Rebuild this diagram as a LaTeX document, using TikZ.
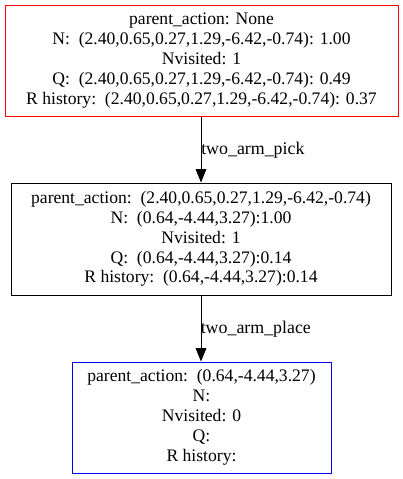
\documentclass[tikz,border=0pt]{standalone}
\usepackage{fontspec}
\setmainfont{Liberation Serif}
\usetikzlibrary{arrows.meta}
\begin{document}
\begin{tikzpicture}[x=0.75pt,y=-0.75pt,
  box/.style={draw,line width=0.75pt,align=center,inner sep=0pt,
    font=\fontsize{13.2}{14.9}\selectfont},
  lbl/.style={anchor=west,inner sep=0pt,font=\fontsize{13.4}{14}\selectfont},
  conn/.style={line width=0.75pt,-{Triangle[length=10pt,width=8pt]}}]
\useasboundingbox (0,0) rectangle (403,479);
\node[box,draw=red,minimum width=393*0.75pt,minimum height=111*0.75pt] (n1) at (201.5,60.5)
  {parent\_action: None\\
   N:\ \ (2.40,0.65,0.27,1.29,-6.42,-0.74): 1.00\\
   Nvisited: 1\\
   Q:\ \ (2.40,0.65,0.27,1.29,-6.42,-0.74): 0.49\\
   R history:\ \ (2.40,0.65,0.27,1.29,-6.42,-0.74): 0.37};
\node[box,minimum width=380*0.75pt,minimum height=112*0.75pt] (n2) at (201,239)
  {parent\_action:\ \ (2.40,0.65,0.27,1.29,-6.42,-0.74)\\
   N:\ \ (0.64,-4.44,3.27):1.00\\
   Nvisited: 1\\
   Q:\ \ (0.64,-4.44,3.27):0.14\\
   R history:\ \ (0.64,-4.44,3.27):0.14};
\node[box,draw=blue,minimum width=259*0.75pt,minimum height=111*0.75pt] (n3) at (201.5,417.5)
  {parent\_action:\ \ (0.64,-4.44,3.27)\\
   N:\\
   Nvisited: 0\\
   Q:\\
   R history:};
\draw[conn] (n1.south -| 201,0) -- (n2.north -| 201,0);
\draw[conn] (n2.south -| 201,0) -- (n3.north -| 201,0);
\node[lbl] (l1) at (201,150) {two\_arm\_pick};
\node[lbl] (l2) at (200.5,329) {two\_arm\_place};
\end{tikzpicture}
\end{document}
